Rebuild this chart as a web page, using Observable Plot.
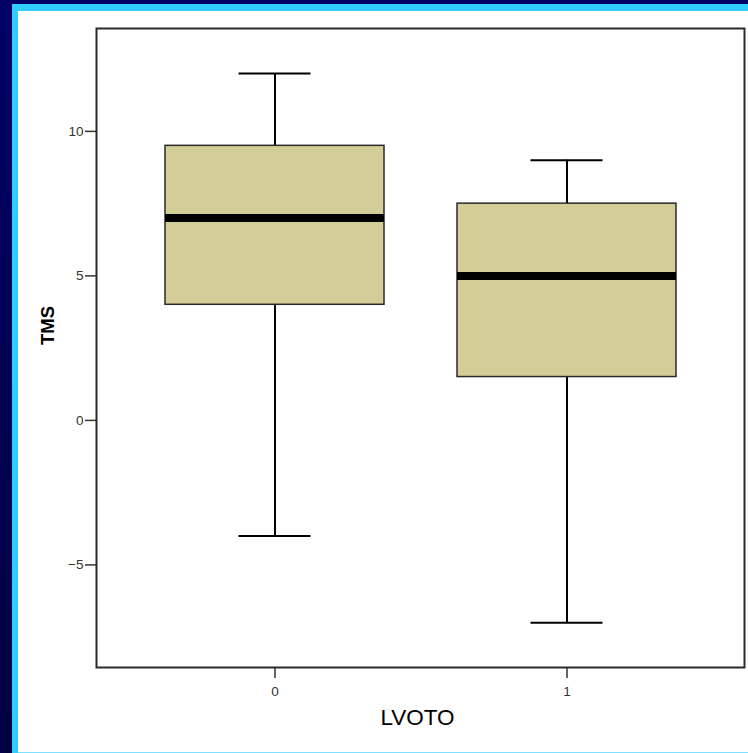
<!DOCTYPE html>
<html>
<head>
<meta charset="utf-8">
<script src="https://cdn.jsdelivr.net/npm/d3@7"></script>
<script src="https://cdn.jsdelivr.net/npm/@observablehq/plot@0.6"></script>
<style>
  html, body { margin: 0; padding: 0; }
  body { width: 748px; height: 753px; overflow: hidden; position: relative;
         background: linear-gradient(#000066, #000042); }
  #panel { position: absolute; left: 12px; top: 4px; width: 736px; height: 749px; background: #33ccff; }
  #inner { position: absolute; left: 18px; top: 11px; width: 730px; height: 741px; background: #ffffff; }
  #bottomline { position: absolute; left: 18px; top: 752px; width: 730px; height: 1px; background: #80e0ff; }
  #inner svg { display: block; }
</style>
</head>
<body>
<div id="panel"></div>
<div id="inner"></div>
<div id="bottomline"></div>
<script>
const groups = ["0", "1"];
const mins = [-4, -7];
const q1s = [4, 1.5];
const medians = [7, 5];
const q3s = [9.5, 7.5];
const maxs = [12, 9];
const yTicks = [-5, 0, 5, 10];

const rows = groups.map((g, i) => ({
  group: g, min: mins[i], q1: q1s[i], median: medians[i], q3: q3s[i], max: maxs[i]
}));

const chart = Plot.plot({
  width: 730,
  height: 741,
  marginLeft: 78,
  marginTop: 17,
  marginRight: 4,
  marginBottom: 85,
  style: { fontFamily: "'Liberation Sans', Arial, sans-serif", fontSize: "13.5px", background: "white", color: "#222" },
  x: { type: "band", domain: groups, paddingInner: 0.25, paddingOuter: 0.2345 },
  y: { domain: [-8.55, 13.56] },
  marks: [
    Plot.ruleX(rows, { x: "group", y1: "min", y2: "max", stroke: "#000", strokeWidth: 2 }),
    Plot.barY(rows, { x: "group", y1: "q1", y2: "q3", fill: "#d3ce98", stroke: "#2a2a2a", strokeWidth: 1.5 }),
    Plot.tickY(rows, { x: "group", y: "median", stroke: "#000", strokeWidth: 8 }),
    Plot.tickY(rows, { x: "group", y: "min", stroke: "#000", strokeWidth: 2, insetLeft: 73.5, insetRight: 73.5 }),
    Plot.tickY(rows, { x: "group", y: "max", stroke: "#000", strokeWidth: 2, insetLeft: 73.5, insetRight: 73.5 }),
    Plot.axisY({ ticks: yTicks, tickSize: 11, tickPadding: 2, label: null, stroke: "#333", strokeWidth: 1.5, fill: "#333" }),
    Plot.axisX({ tickSize: 11, tickPadding: 8, label: null, stroke: "#333", strokeWidth: 1.5, fill: "#333" }),
    Plot.frame({ stroke: "#2a2a2a", strokeWidth: 2 }),
    Plot.text(["TMS"], { text: d => d, frameAnchor: "left", dx: -48, dy: -3, rotate: -90, fontSize: 18.5, fontWeight: "bold", fill: "#000" }),
    Plot.text(["LVOTO"], { text: d => d, frameAnchor: "bottom", dx: -3, dy: 57, fontSize: 22.5, fill: "#000" })
  ]
});
document.getElementById("inner").appendChild(chart);
</script>
</body>
</html>
